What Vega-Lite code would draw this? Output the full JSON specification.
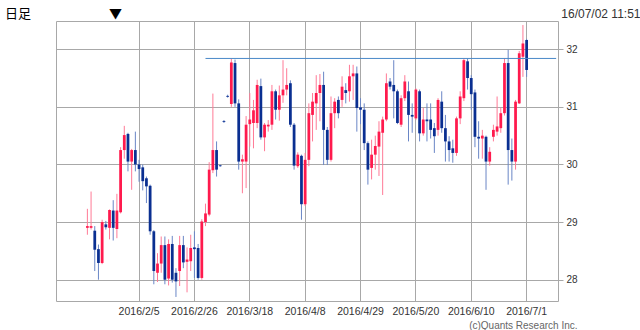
{
  "$schema": "https://vega.github.io/schema/vega-lite/v6.json",
  "width": 502,
  "height": 280,
  "autosize": {"type": "none"},
  "padding": {"left": 56, "top": 21, "right": 82, "bottom": 29},
  "background": "#ffffff",
  "config": {
    "view": {"stroke": "#a8a8a8", "strokeWidth": 1},
    "font": "Liberation Sans"
  },
  "title": {
    "text": "日足\u2003\u2003\u2003\u2003\u2003\u2003▼",
    "anchor": "start",
    "frame": "group",
    "orient": "top",
    "dx": -51,
    "dy": 28,
    "offset": 8,
    "baseline": "middle",
    "font": "Noto Sans CJK JP",
    "fontSize": 13,
    "fontWeight": "normal",
    "color": "#000000"
  },
  "data": {
    "values": [
      {"d": "2016/1/18", "o": 28.9, "h": 29.23, "l": 28.78, "c": 28.93},
      {"d": "2016/1/19", "o": 28.9, "h": 29.53, "l": 28.87, "c": 28.93},
      {"d": "2016/1/20", "o": 28.85, "h": 28.93, "l": 28.15, "c": 28.52},
      {"d": "2016/1/21", "o": 28.53, "h": 28.61, "l": 28.0, "c": 28.29},
      {"d": "2016/1/22", "o": 28.29, "h": 29.04, "l": 28.27, "c": 29.0},
      {"d": "2016/1/25", "o": 28.96, "h": 29.02, "l": 28.87, "c": 28.91},
      {"d": "2016/1/26", "o": 28.9, "h": 29.22, "l": 28.7, "c": 29.21},
      {"d": "2016/1/27", "o": 29.2, "h": 29.38, "l": 28.68, "c": 28.9},
      {"d": "2016/1/28", "o": 28.88, "h": 29.49, "l": 28.72, "c": 29.2},
      {"d": "2016/1/29", "o": 29.17, "h": 30.3, "l": 29.15, "c": 30.25},
      {"d": "2016/2/1", "o": 30.25, "h": 30.67, "l": 30.1, "c": 30.51},
      {"d": "2016/2/2", "o": 30.53, "h": 30.55, "l": 29.88, "c": 30.05},
      {"d": "2016/2/3", "o": 30.05, "h": 30.27, "l": 29.56, "c": 30.25},
      {"d": "2016/2/4", "o": 30.25, "h": 30.57, "l": 29.88, "c": 30.0},
      {"d": "2016/2/5", "o": 30.0, "h": 30.08, "l": 29.7, "c": 29.92},
      {"d": "2016/2/8", "o": 29.95, "h": 30.0, "l": 29.55, "c": 29.71},
      {"d": "2016/2/9", "o": 29.76, "h": 29.79, "l": 29.33, "c": 29.62},
      {"d": "2016/2/10", "o": 29.63, "h": 29.65, "l": 28.78, "c": 28.84},
      {"d": "2016/2/11", "o": 28.84, "h": 28.86, "l": 27.92, "c": 28.15},
      {"d": "2016/2/12", "o": 28.12, "h": 28.46, "l": 27.96, "c": 28.28},
      {"d": "2016/2/15", "o": 28.28, "h": 28.75, "l": 28.12, "c": 28.6},
      {"d": "2016/2/16", "o": 28.6, "h": 28.75, "l": 27.92, "c": 28.0},
      {"d": "2016/2/17", "o": 28.02, "h": 28.7, "l": 27.9, "c": 28.62},
      {"d": "2016/2/18", "o": 28.62, "h": 28.76, "l": 27.95, "c": 28.0},
      {"d": "2016/2/19", "o": 28.12, "h": 28.2, "l": 27.7, "c": 27.97},
      {"d": "2016/2/22", "o": 28.15, "h": 28.76, "l": 27.89, "c": 28.6},
      {"d": "2016/2/23", "o": 28.6, "h": 28.76, "l": 28.2, "c": 28.3},
      {"d": "2016/2/24", "o": 28.31, "h": 28.56, "l": 27.78, "c": 28.35},
      {"d": "2016/2/25", "o": 28.32, "h": 28.78, "l": 28.15, "c": 28.55},
      {"d": "2016/2/26", "o": 28.56, "h": 28.84, "l": 28.03, "c": 28.53},
      {"d": "2016/2/29", "o": 28.55, "h": 28.62, "l": 28.0, "c": 28.03},
      {"d": "2016/3/1", "o": 28.03, "h": 29.05, "l": 28.0, "c": 29.01},
      {"d": "2016/3/2", "o": 29.0, "h": 29.32, "l": 28.93, "c": 29.15},
      {"d": "2016/3/3", "o": 29.13, "h": 30.04, "l": 29.1, "c": 29.91},
      {"d": "2016/3/4", "o": 29.9, "h": 31.23, "l": 29.85, "c": 30.25},
      {"d": "2016/3/7", "o": 30.25, "h": 30.4, "l": 29.79, "c": 29.91},
      {"d": "2016/3/8", "o": 29.985, "h": 29.995, "l": 29.96, "c": 29.97},
      {"d": "2016/3/9", "o": 30.755, "h": 30.77, "l": 30.72, "c": 30.74},
      {"d": "2016/3/10", "o": 31.19, "h": 31.21, "l": 31.16, "c": 31.175},
      {"d": "2016/3/11", "o": 31.05, "h": 31.83, "l": 31.0, "c": 31.77},
      {"d": "2016/3/14", "o": 31.76, "h": 31.82, "l": 31.0, "c": 31.06},
      {"d": "2016/3/15", "o": 31.06, "h": 31.13, "l": 29.91, "c": 30.05},
      {"d": "2016/3/16", "o": 30.05, "h": 30.17, "l": 29.5, "c": 30.09},
      {"d": "2016/3/17", "o": 30.05, "h": 30.84, "l": 29.59, "c": 30.69},
      {"d": "2016/3/18", "o": 30.7, "h": 31.24, "l": 30.31, "c": 30.78},
      {"d": "2016/3/21", "o": 30.72, "h": 31.12, "l": 30.28, "c": 30.94},
      {"d": "2016/3/22", "o": 30.72, "h": 31.47, "l": 30.63, "c": 31.38},
      {"d": "2016/3/23", "o": 31.36, "h": 31.49, "l": 30.43, "c": 30.47},
      {"d": "2016/3/24", "o": 30.47, "h": 30.72, "l": 30.23, "c": 30.69},
      {"d": "2016/3/25", "o": 30.66, "h": 30.77, "l": 30.57, "c": 30.69},
      {"d": "2016/3/28", "o": 30.69, "h": 31.38, "l": 30.6, "c": 31.27},
      {"d": "2016/3/29", "o": 31.27, "h": 31.3, "l": 30.78, "c": 30.95},
      {"d": "2016/3/30", "o": 30.95, "h": 31.37, "l": 30.76, "c": 31.2},
      {"d": "2016/3/31", "o": 31.2, "h": 31.81, "l": 31.07, "c": 31.3},
      {"d": "2016/4/1", "o": 31.3, "h": 31.67, "l": 31.2, "c": 31.38},
      {"d": "2016/4/4", "o": 31.41, "h": 31.46, "l": 30.65, "c": 30.69},
      {"d": "2016/4/5", "o": 30.69, "h": 30.72, "l": 29.91, "c": 29.98},
      {"d": "2016/4/6", "o": 29.97, "h": 30.21, "l": 29.94, "c": 30.17},
      {"d": "2016/4/7", "o": 30.15, "h": 30.17, "l": 29.04, "c": 29.31},
      {"d": "2016/4/8", "o": 29.31, "h": 30.2, "l": 29.28, "c": 30.08},
      {"d": "2016/4/11", "o": 30.08, "h": 31.06, "l": 29.97, "c": 30.89},
      {"d": "2016/4/12", "o": 30.86, "h": 31.24, "l": 30.4, "c": 31.09},
      {"d": "2016/4/13", "o": 31.06, "h": 31.55, "l": 30.6, "c": 31.24},
      {"d": "2016/4/14", "o": 31.24, "h": 31.57, "l": 30.75, "c": 31.38},
      {"d": "2016/4/15", "o": 31.38, "h": 31.61, "l": 29.99, "c": 30.6},
      {"d": "2016/4/18", "o": 30.6, "h": 30.65, "l": 29.99, "c": 30.08},
      {"d": "2016/4/19", "o": 30.08, "h": 31.18, "l": 30.05, "c": 30.89},
      {"d": "2016/4/20", "o": 30.89, "h": 31.15, "l": 30.63, "c": 31.09},
      {"d": "2016/4/21", "o": 31.12, "h": 31.18, "l": 30.8, "c": 30.89},
      {"d": "2016/4/22", "o": 31.12, "h": 31.53, "l": 31.0, "c": 31.35},
      {"d": "2016/4/25", "o": 31.29, "h": 31.41, "l": 31.06, "c": 31.24},
      {"d": "2016/4/26", "o": 31.27, "h": 31.73, "l": 31.09, "c": 31.53},
      {"d": "2016/4/27", "o": 31.53, "h": 31.73, "l": 31.12, "c": 31.58},
      {"d": "2016/4/28", "o": 31.58, "h": 31.7, "l": 30.57, "c": 30.98},
      {"d": "2016/4/29", "o": 30.99, "h": 31.15, "l": 30.7, "c": 30.95},
      {"d": "2016/5/2", "o": 30.95, "h": 31.06, "l": 30.25, "c": 30.37},
      {"d": "2016/5/3", "o": 30.37, "h": 30.4, "l": 29.65, "c": 29.91},
      {"d": "2016/5/4", "o": 29.94, "h": 30.43, "l": 29.74, "c": 30.17},
      {"d": "2016/5/5", "o": 30.17, "h": 30.5, "l": 29.91, "c": 30.32},
      {"d": "2016/5/6", "o": 30.31, "h": 30.75, "l": 29.8, "c": 30.57},
      {"d": "2016/5/9", "o": 30.55, "h": 30.83, "l": 29.47, "c": 30.78},
      {"d": "2016/5/10", "o": 30.78, "h": 31.58, "l": 30.75, "c": 31.41},
      {"d": "2016/5/11", "o": 31.44, "h": 31.5, "l": 31.3, "c": 31.35},
      {"d": "2016/5/12", "o": 31.38, "h": 31.81, "l": 30.8, "c": 31.27},
      {"d": "2016/5/13", "o": 31.27, "h": 31.3, "l": 30.7, "c": 30.72},
      {"d": "2016/5/16", "o": 30.69, "h": 31.2, "l": 30.65, "c": 31.15},
      {"d": "2016/5/17", "o": 31.15, "h": 31.55, "l": 31.1, "c": 31.44},
      {"d": "2016/5/18", "o": 31.27, "h": 31.44, "l": 30.4, "c": 30.86},
      {"d": "2016/5/19", "o": 30.86, "h": 31.06, "l": 30.55, "c": 30.83},
      {"d": "2016/5/20", "o": 30.8, "h": 31.32, "l": 30.77, "c": 31.3},
      {"d": "2016/5/23", "o": 31.27, "h": 31.3, "l": 30.4, "c": 30.54},
      {"d": "2016/5/24", "o": 30.54, "h": 30.98, "l": 30.5, "c": 30.78},
      {"d": "2016/5/25", "o": 30.78, "h": 31.06, "l": 30.4, "c": 30.75},
      {"d": "2016/5/26", "o": 30.78, "h": 31.06, "l": 30.45, "c": 30.6},
      {"d": "2016/5/27", "o": 30.63, "h": 30.72, "l": 30.2, "c": 30.49},
      {"d": "2016/5/30", "o": 30.6, "h": 31.15, "l": 30.5, "c": 31.12},
      {"d": "2016/5/31", "o": 31.09, "h": 31.27, "l": 30.55, "c": 30.63},
      {"d": "2016/6/1", "o": 30.63, "h": 30.86, "l": 30.05, "c": 30.4},
      {"d": "2016/6/2", "o": 30.4, "h": 30.49, "l": 30.05, "c": 30.25},
      {"d": "2016/6/3", "o": 30.28, "h": 30.43, "l": 30.03, "c": 30.2},
      {"d": "2016/6/6", "o": 30.2, "h": 30.83, "l": 30.15, "c": 30.8},
      {"d": "2016/6/7", "o": 30.8, "h": 31.27, "l": 30.7, "c": 31.18},
      {"d": "2016/6/8", "o": 31.15, "h": 31.84, "l": 31.1, "c": 31.81},
      {"d": "2016/6/9", "o": 31.79, "h": 31.84, "l": 31.3, "c": 31.5},
      {"d": "2016/6/10", "o": 31.5, "h": 31.55, "l": 30.95, "c": 31.22},
      {"d": "2016/6/13", "o": 31.25, "h": 31.3, "l": 30.3, "c": 30.48},
      {"d": "2016/6/14", "o": 30.48, "h": 30.75, "l": 30.1, "c": 30.45},
      {"d": "2016/6/15", "o": 30.45, "h": 30.6, "l": 30.1, "c": 30.5},
      {"d": "2016/6/16", "o": 30.48, "h": 30.5, "l": 29.56, "c": 30.05},
      {"d": "2016/6/17", "o": 30.05, "h": 30.3, "l": 29.98, "c": 30.22},
      {"d": "2016/6/20", "o": 30.48, "h": 30.69, "l": 30.4, "c": 30.6},
      {"d": "2016/6/21", "o": 30.57, "h": 31.18, "l": 30.5, "c": 30.66},
      {"d": "2016/6/22", "o": 30.63, "h": 30.98, "l": 30.55, "c": 30.89},
      {"d": "2016/6/23", "o": 30.89, "h": 31.84, "l": 30.85, "c": 31.76},
      {"d": "2016/6/24", "o": 31.76, "h": 31.99, "l": 29.65, "c": 30.25},
      {"d": "2016/6/27", "o": 30.25, "h": 30.45, "l": 29.72, "c": 30.05},
      {"d": "2016/6/28", "o": 30.05, "h": 31.12, "l": 29.91, "c": 31.09},
      {"d": "2016/6/29", "o": 31.06, "h": 31.97, "l": 31.05, "c": 31.93},
      {"d": "2016/6/30", "o": 31.87, "h": 32.42, "l": 31.52, "c": 32.1},
      {"d": "2016/7/1", "o": 32.16, "h": 32.18, "l": 31.52, "c": 31.64}
    ]
  },
  "encoding": {
    "x": {
      "field": "d",
      "type": "ordinal",
      "sort": null,
      "scale": {
        "paddingInner": 0,
        "paddingOuter": 0,
        "domain": [
          "2016/1/6","2016/1/7","2016/1/8","2016/1/11","2016/1/12","2016/1/13","2016/1/14","2016/1/15",
          "2016/1/18","2016/1/19","2016/1/20","2016/1/21","2016/1/22","2016/1/25","2016/1/26","2016/1/27","2016/1/28","2016/1/29",
          "2016/2/1","2016/2/2","2016/2/3","2016/2/4","2016/2/5","2016/2/8","2016/2/9","2016/2/10","2016/2/11","2016/2/12",
          "2016/2/15","2016/2/16","2016/2/17","2016/2/18","2016/2/19","2016/2/22","2016/2/23","2016/2/24","2016/2/25","2016/2/26","2016/2/29",
          "2016/3/1","2016/3/2","2016/3/3","2016/3/4","2016/3/7","2016/3/8","2016/3/9","2016/3/10","2016/3/11",
          "2016/3/14","2016/3/15","2016/3/16","2016/3/17","2016/3/18","2016/3/21","2016/3/22","2016/3/23","2016/3/24","2016/3/25",
          "2016/3/28","2016/3/29","2016/3/30","2016/3/31","2016/4/1","2016/4/4","2016/4/5","2016/4/6","2016/4/7","2016/4/8",
          "2016/4/11","2016/4/12","2016/4/13","2016/4/14","2016/4/15","2016/4/18","2016/4/19","2016/4/20","2016/4/21","2016/4/22",
          "2016/4/25","2016/4/26","2016/4/27","2016/4/28","2016/4/29","2016/5/2","2016/5/3","2016/5/4","2016/5/5","2016/5/6",
          "2016/5/9","2016/5/10","2016/5/11","2016/5/12","2016/5/13","2016/5/16","2016/5/17","2016/5/18","2016/5/19","2016/5/20",
          "2016/5/23","2016/5/24","2016/5/25","2016/5/26","2016/5/27","2016/5/30","2016/5/31","2016/6/1","2016/6/2","2016/6/3",
          "2016/6/6","2016/6/7","2016/6/8","2016/6/9","2016/6/10","2016/6/13","2016/6/14","2016/6/15","2016/6/16","2016/6/17",
          "2016/6/20","2016/6/21","2016/6/22","2016/6/23","2016/6/24","2016/6/27","2016/6/28","2016/6/29","2016/6/30",
          "2016/7/1","2016/7/4","2016/7/5","2016/7/6","2016/7/7","2016/7/8","2016/7/11","2016/7/12","2016/7/13"
        ]
      },
      "axis": {
        "values": ["2016/2/5","2016/2/26","2016/3/18","2016/4/8","2016/4/29","2016/5/20","2016/6/10","2016/7/1"],
        "bandPosition": 0.5,
        "grid": true,
        "gridColor": "#a8a8a8",
        "gridWidth": 1,
        "ticks": false,
        "domain": false,
        "labelAngle": 0,
        "labelPadding": 5,
        "labelFontSize": 10.5,
        "labelColor": "#333333",
        "labelOverlap": false,
        "labelFlush": false,
        "title": "(c)Quants Research Inc.",
        "titleX": 521,
        "titleY": 24,
        "titleAlign": "right",
        "titleBaseline": "middle",
        "titleFontSize": 10,
        "titleFontWeight": "normal",
        "titleColor": "#666666"
      }
    }
  },
  "layer": [
    {
      "mark": {"type": "rule", "strokeWidth": 1},
      "encoding": {
        "y": {
          "field": "l",
          "type": "quantitative",
          "scale": {"domain": [27.63, 32.49], "nice": false, "zero": false},
          "axis": {
            "orient": "right",
            "values": [28, 29, 30, 31, 32],
            "format": "d",
            "grid": true,
            "gridColor": "#a8a8a8",
            "tickColor": "#a8a8a8",
            "tickSize": 5,
            "domain": false,
            "labelPadding": 3,
            "labelFontSize": 10,
            "labelColor": "#333333",
            "title": "16/07/02 11:51",
            "titleAngle": 0,
            "titleX": 82,
            "titleY": -8,
            "titleAlign": "right",
            "titleBaseline": "middle",
            "titleFontSize": 12,
            "titleFontWeight": "normal",
            "titleColor": "#333333"
          }
        },
        "y2": {"field": "h"},
        "color": {
          "condition": {"test": "datum.c >= datum.o", "value": "#ff7a96"},
          "value": "#6a86c6"
        }
      }
    },
    {
      "mark": {"type": "bar", "width": {"band": 0.75}},
      "encoding": {
        "y": {"field": "o", "type": "quantitative"},
        "y2": {"field": "c"},
        "color": {
          "condition": {"test": "datum.c >= datum.o", "value": "#ff1a4d"},
          "value": "#0a2f91"
        }
      }
    },
    {
      "data": {"values": [{"d": "2016/3/2", "d2": "2016/7/13", "level": 31.84}]},
      "mark": {"type": "rule", "color": "#4a88c8", "strokeWidth": 1},
      "encoding": {
        "x2": {"field": "d2"},
        "y": {"field": "level", "type": "quantitative"}
      }
    }
  ]
}
